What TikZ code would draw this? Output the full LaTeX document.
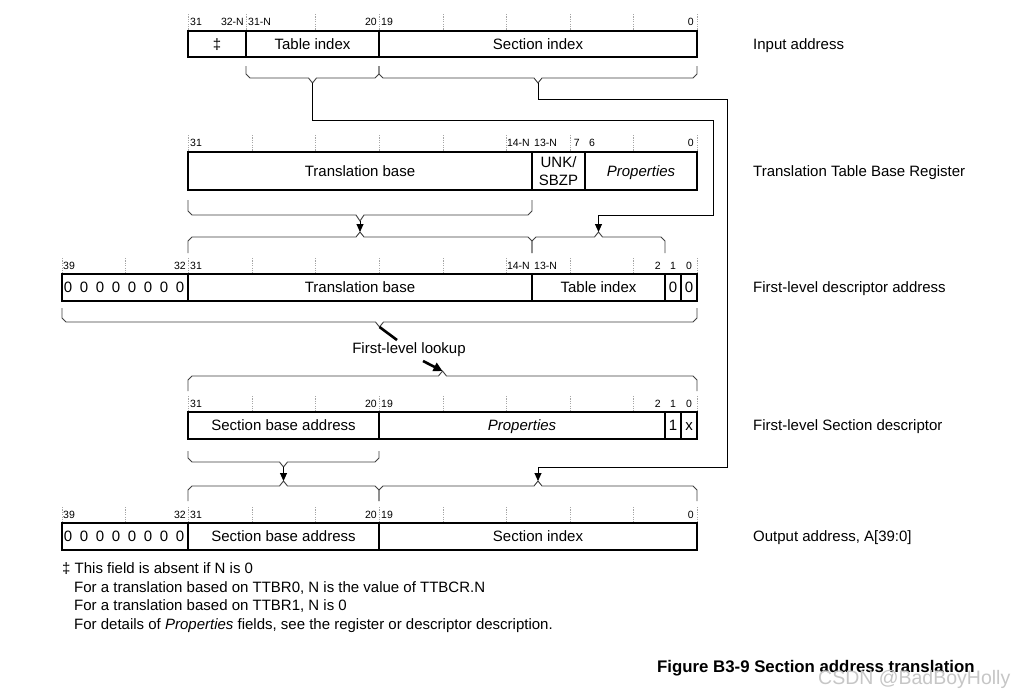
\documentclass[tikz,border=0pt]{standalone}
\usepackage{fontspec}
\setmainfont{Liberation Sans}
\usetikzlibrary{arrows.meta}
\tikzset{
  field/.style={draw=black, line width=1.3pt, inner sep=0pt, outer sep=0pt,
    font=\fontsize{15}{18}\selectfont, text height=10.7pt, text depth=0pt},
  txt/.style={inner sep=0pt, font=\fontsize{15}{18}\selectfont, text height=10.7pt, text depth=0pt},
  lab/.style={txt, anchor=west},
  bit/.style={inner sep=0pt, font=\fontsize{10.5}{12}\selectfont, text height=7.5pt, text depth=0pt},
  tickline/.style={draw=gray!70, line width=0.6pt, dash pattern=on 1.2pt off 1.2pt},
  brc/.style={draw=black!75, line width=0.9pt},
  conn/.style={draw=black, line width=0.9pt},
  arr/.style={conn, -{Triangle[length=8pt,width=7pt]}},
  fat/.style={draw=black, line width=2.6pt},
  fatarr/.style={fat, -{Triangle[length=9pt,width=9pt]}}
}
\newcommand\fld[6]{%
  \node[field, minimum width={(#3-#2)*1pt}, minimum height={(#5-#4)*1pt}] (#1) at ({(#2+#3)/2},{(#4+#5)/2}) {#6};}
\newcommand\bracedn[6]{%
  \draw[brc] (#1,#4) -- (#1,#5-4) -- (#1+4,#5) -- (#3-4,#5) -- (#3,#6) -- (#3+4,#5) -- (#2-4,#5) -- (#2,#5-4) -- (#2,#4);}
\newcommand\braceup[6]{%
  \draw[brc] (#1,#4) -- (#1,#5+4) -- (#1+4,#5) -- (#3-4,#5) -- (#3,#6) -- (#3+4,#5) -- (#2-4,#5) -- (#2,#5+4) -- (#2,#4);}
\newcommand\ticks[3]{% list, ytop, ybot
  \foreach \tx in {#1} {\draw[tickline] (\tx,#2) -- (\tx,#3);}}
\begin{document}
\begin{tikzpicture}[x=1pt,y=-1pt]
\useasboundingbox[fill=white] (0,0) rectangle (1027,696);

% ---------- Input address ----------
\ticks{188,246,315,379,443,506,570,633,697}{14}{30}
\node[bit,anchor=west] (a31) at (190,22) {31};
\node[bit,anchor=east] (a32n) at (244,22) {32-N};
\node[bit,anchor=west] (a31n) at (248,22) {31-N};
\node[bit,anchor=east] (a20) at (377,22) {20};
\node[bit,anchor=west] (a19) at (381,22) {19};
\node[bit,anchor=east] (a0) at (694,22) {0};
\fld{r1n}{188}{246}{31}{57}{‡}
\fld{r1t}{246}{379}{31}{57}{Table index}
\fld{r1s}{379}{697}{31}{57}{Section index}
\node[lab] (l1) at (753,44) {Input address};
\bracedn{246}{379}{312.5}{66}{78}{83}
\bracedn{379}{697}{538}{66}{78}{83}
\coordinate (r1tV) at (312.5,83);
\coordinate (r1sV) at (538,83);

% ---------- TTBR ----------
\ticks{188,252,315,379,443,506,570,633,697}{135}{151}
\node[bit,anchor=west] (b31) at (190,143) {31};
\node[bit,anchor=east] (b14n) at (530,143) {14-N};
\node[bit,anchor=west] (b13n) at (534,143) {13-N};
\node[bit,anchor=east] (b7) at (580,143) {7};
\node[bit,anchor=west] (b6) at (589,143) {6};
\node[bit,anchor=east] (b0) at (694,143) {0};
\fld{t0}{188}{532}{152}{190}{Translation base}
\fld{t1}{532}{585}{152}{190}{}
\node[inner sep=0pt, align=center, font=\fontsize{15}{18.5}\selectfont] (t1txt) at (558.5,171) {UNK/\\SBZP};
\fld{t2}{585}{697}{152}{190}{\itshape Properties}
\node[lab] (l2) at (753,171) {Translation Table Base Register};
\bracedn{188}{532}{360}{200}{215}{221}
\coordinate (tV) at (360,221);

% ---------- First-level descriptor address ----------
\braceup{188}{532}{360}{253}{237}{232}
\braceup{532}{665}{598.5}{253}{237}{232}
\coordinate (dU1) at (360,232);
\coordinate (dU2) at (598.5,232);
\ticks{62,125,188,252,315,379,443,506,570,633,697}{258}{273}
\node[bit,anchor=west] (c39) at (63,266) {39};
\node[bit,anchor=east] (c32) at (186,266) {32};
\node[bit,anchor=west] (c31) at (190,266) {31};
\node[bit,anchor=east] (c14n) at (530,266) {14-N};
\node[bit,anchor=west] (c13n) at (534,266) {13-N};
\node[bit,anchor=east] (c2) at (661,266) {2};
\node[bit] (c1) at (673,266) {1};
\node[bit] (c0) at (689,266) {0};
\fld{d0}{62}{188}{274}{301}{}
\foreach \k in {0,...,7} {\node[txt] (dz\k) at (68+16*\k,287.5) {0};}
\fld{d1}{188}{532}{274}{301}{Translation base}
\fld{d2}{532}{665}{274}{301}{Table index}
\fld{d3}{665}{681}{274}{301}{0}
\fld{d4}{681}{697}{274}{301}{0}
\node[lab] (l3) at (753,287.5) {First-level descriptor address};
\bracedn{62}{697}{379.5}{308}{322}{327}
\coordinate (dV) at (379.5,327);

% ---------- lookup ----------
\coordinate (lk1) at (397,340);
\coordinate (lk2) at (423,361);
\node[txt] (lk) at (409,348.5) {First-level lookup};

% ---------- First-level Section descriptor ----------
\braceup{188}{697}{442.5}{391}{376}{371}
\coordinate (sU) at (442.5,371);
\ticks{188,252,315,379,443,506,570,633,697}{396}{411}
\node[bit,anchor=west] (e31) at (190,404) {31};
\node[bit,anchor=east] (e20) at (377,404) {20};
\node[bit,anchor=west] (e19) at (381,404) {19};
\node[bit,anchor=east] (e2) at (661,404) {2};
\node[bit] (e1) at (673,404) {1};
\node[bit] (e0) at (689,404) {0};
\fld{s0}{188}{379}{412}{439}{Section base address}
\fld{s1}{379}{665}{412}{439}{\itshape Properties}
\fld{s2}{665}{681}{412}{439}{1}
\fld{s3}{681}{697}{412}{439}{x}
\node[lab] (l4) at (753,425.5) {First-level Section descriptor};
\bracedn{188}{379}{283.5}{451}{462}{467}
\coordinate (sV) at (283.5,467);

% ---------- Output address ----------
\braceup{188}{379}{283.5}{501}{486}{481}
\braceup{379}{697}{538}{501}{486}{481}
\coordinate (oU1) at (283.5,481);
\coordinate (oU2) at (538,481);
\ticks{62,125,188,252,315,379,443,506,570,633,697}{507}{522}
\node[bit,anchor=west] (f39) at (63,515) {39};
\node[bit,anchor=east] (f32) at (186,515) {32};
\node[bit,anchor=west] (f31) at (190,515) {31};
\node[bit,anchor=east] (f20) at (377,515) {20};
\node[bit,anchor=west] (f19) at (381,515) {19};
\node[bit,anchor=east] (f0) at (694,515) {0};
\fld{o0}{62}{188}{523}{550}{}
\foreach \k in {0,...,7} {\node[txt] (oz\k) at (68+16*\k,536.5) {0};}
\fld{o1}{188}{379}{523}{550}{Section base address}
\fld{o2}{379}{697}{523}{550}{Section index}
\node[lab] (l5) at (753,536.5) {Output address, A[39:0]};

% ---------- connectors ----------
\coordinate (w1a) at (312.5,120);
\coordinate (w1b) at (713,120);
\coordinate (w1c) at (713,215);
\coordinate (w1d) at (598.5,215);
\draw[arr] (r1tV) -- (w1a) -- (w1b) -- (w1c) -- (w1d) -- (dU2);
\coordinate (w2a) at (538,99);
\coordinate (w2b) at (727,99);
\coordinate (w2c) at (727,467);
\coordinate (w2d) at (538,467);
\draw[arr] (r1sV) -- (w2a) -- (w2b) -- (w2c) -- (w2d) -- (oU2);
\draw[arr] (tV) -- (dU1);
\draw[arr] (sV) -- (oU1);
\draw[fat] (dV) -- (lk1);
\draw[fatarr] (lk2) -- (sU);

% ---------- footnote ----------
\node[lab] (n1) at (62,568) {‡ This field is absent if N is 0};
\node[lab] (n2) at (74,587) {For a translation based on TTBR0, N is the value of TTBCR.N};
\node[lab] (n3) at (74,605.5) {For a translation based on TTBR1, N is 0};
\node[lab] (n4) at (74,624) {For details of \textit{Properties} fields, see the register or descriptor description.};

% ---------- caption ----------
\node[inner sep=0pt, anchor=west, font=\fontsize{16.8}{20}\selectfont\bfseries, text height=12pt, text depth=0pt] (cap) at (657,666) {Figure B3-9 Section address translation};
\node[inner sep=0pt, anchor=west, font=\fontsize{19.5}{22}\selectfont, text=gray!45, text height=14pt, text depth=0pt] (wm) at (818,677) {CSDN @BadBoyHolly};
\end{tikzpicture}
\end{document}
